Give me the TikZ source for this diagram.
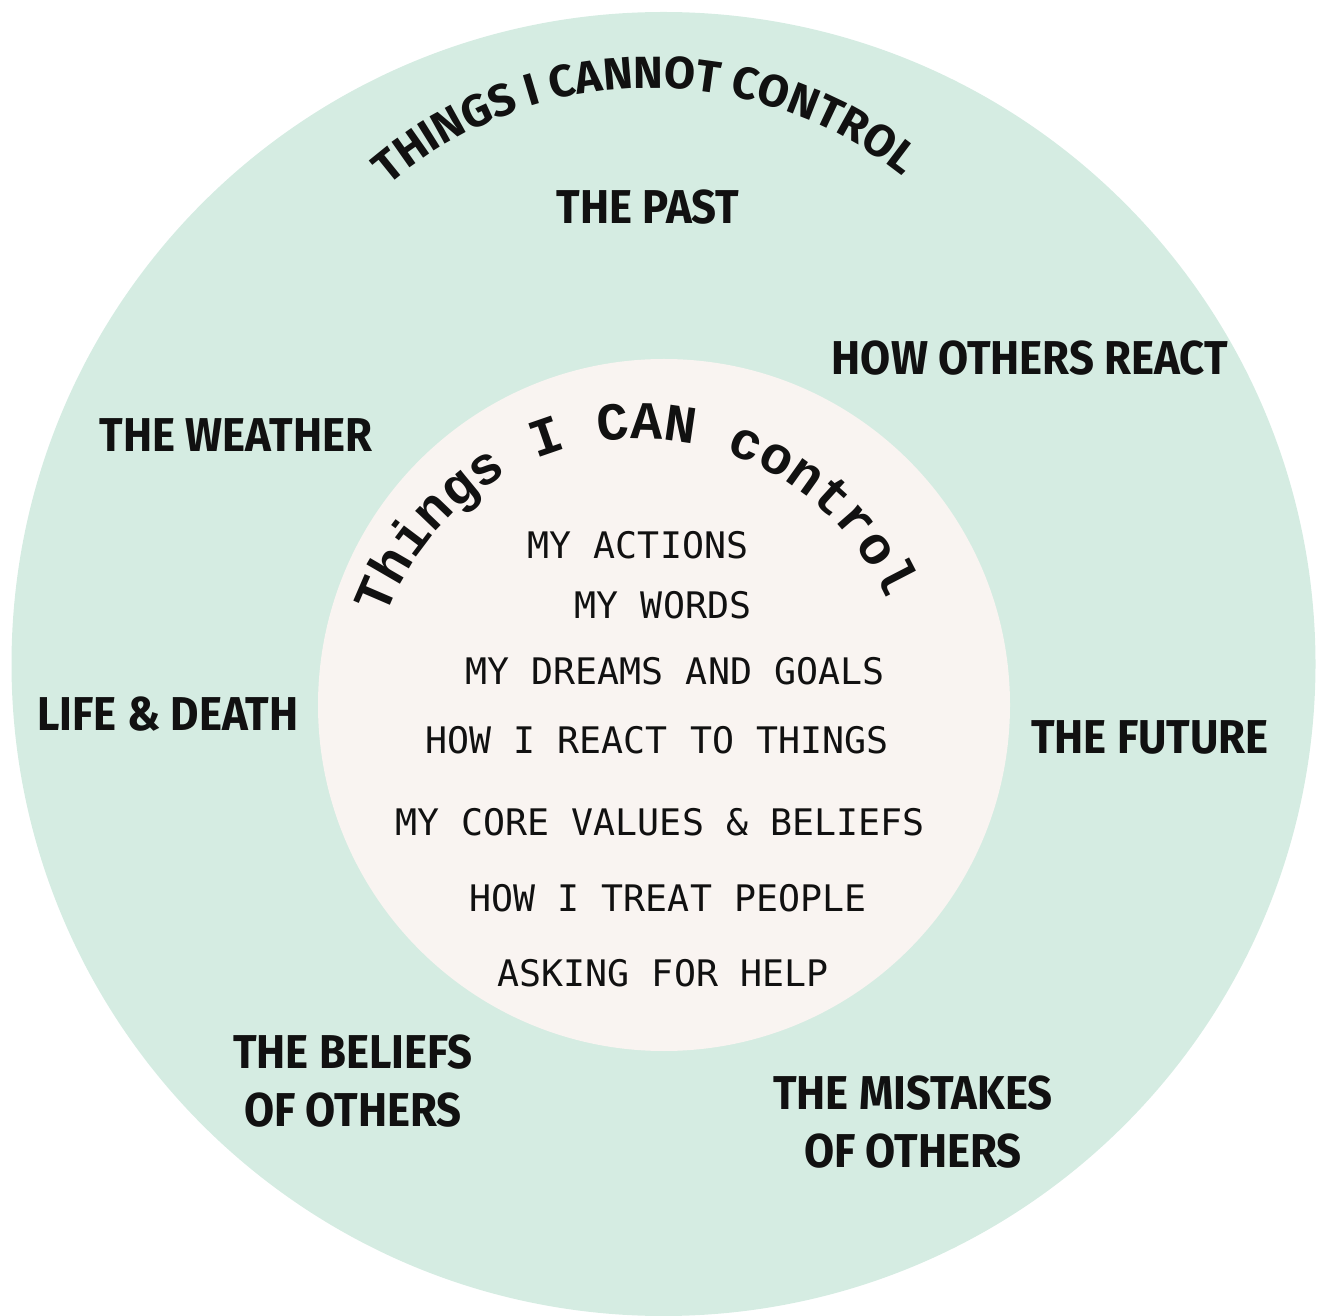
\documentclass[tikz,border=0pt]{standalone}
\usepackage{fontspec}
\usetikzlibrary{decorations.text}
\newfontfamily\handfont[FakeStretch=0.92]{Fira Sans}
\newfontfamily\archfont{Fira Sans}
\newfontfamily\listfont{DejaVu Sans Mono}
\newfontfamily\typefont{Liberation Mono}
\definecolor{mint}{HTML}{D5ECE2}
\definecolor{shell}{HTML}{F9F4F1}
\definecolor{ink}{HTML}{111111}

\begin{document}
\begin{tikzpicture}[x=0.01cm, y=0.01cm,
    outer/.style={font=\handfont\bfseries\fontsize{13.5}{16.5}\selectfont, text=ink, align=center},
    inner/.style={font=\listfont\fontsize{10.4}{12}\selectfont, text=ink}]
    % 1. Page frame
    \useasboundingbox (0,0) rectangle (1318,-1316);

    % 2. The two discs
    \coordinate (big) at (663.5,-664);
    \coordinate (small) at (664,-705);
    \fill[mint] (big) circle (652);
    \fill[shell] (small) circle (346);

    % 3. Curved titles
    \path[decorate, decoration={text along path, text align=center,
        text={|\archfont\bfseries\fontsize{12.8}{14}\selectfont\color{ink}|THINGS I CANNOT CONTROL}}]
        (651,-491) ++(140:403) arc[start angle=140, end angle=42, radius=403];
    \path[decorate, decoration={text along path, text align=center,
        text={|\typefont\bfseries\fontsize{15.2}{18}\selectfont\color{ink}|Things I CAN control}}]
        (640,-709) ++(170:270) arc[start angle=170, end angle=14, radius=270];

    % 4. Outside the circle
    \node[outer] (past) at (648,-207) {THE PAST};
    \node[outer] (react) at (1030,-358) {HOW OTHERS REACT};
    \node[outer] (weather) at (236,-435) {THE WEATHER};
    \node[outer] (life) at (168,-714) {LIFE \& DEATH};
    \node[outer] (future) at (1150,-737) {THE FUTURE};
    \node[outer] (beliefs) at (353,-1081) {THE BELIEFS\\OF OTHERS};
    \node[outer] (mistakes) at (913,-1122) {THE MISTAKES\\OF OTHERS};

    % 5. Inside the circle
    \node[inner] (actions) at (638,-545) {MY ACTIONS};
    \node[inner] (words) at (663,-605) {MY WORDS};
    \node[inner] (dreams) at (675,-671) {MY DREAMS AND GOALS};
    \node[inner] (howreact) at (657,-740) {HOW I REACT TO THINGS};
    \node[inner] (values) at (660,-822) {MY CORE VALUES \& BELIEFS};
    \node[inner] (treat) at (668,-898) {HOW I TREAT PEOPLE};
    \node[inner] (help) at (663,-973) {ASKING FOR HELP};
\end{tikzpicture}
\end{document}
